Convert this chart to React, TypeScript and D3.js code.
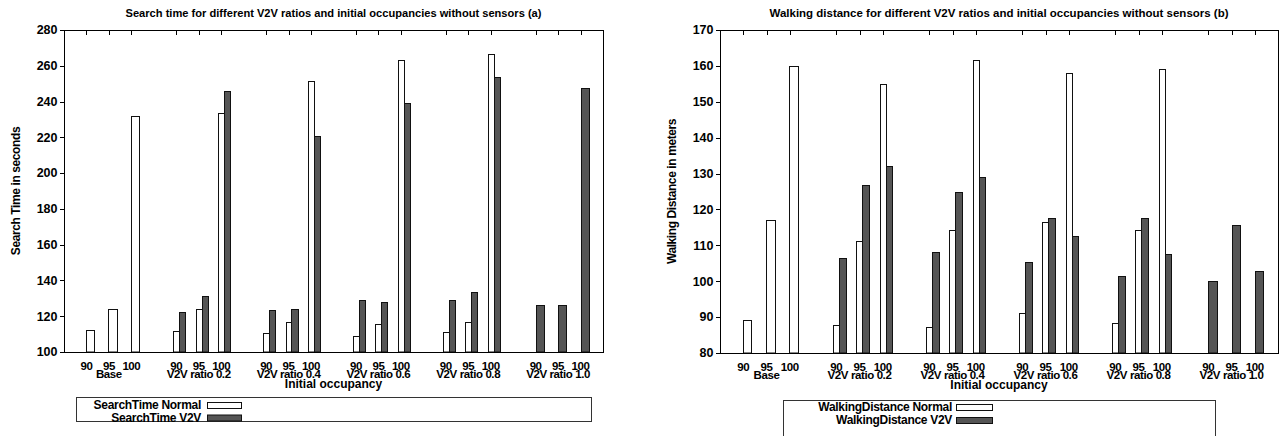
import React from 'react';
import * as d3 from 'd3';

// ---------- data ----------
const groups = ['Base', 'V2V ratio 0.2', 'V2V ratio 0.4', 'V2V ratio 0.6', 'V2V ratio 0.8', 'V2V ratio 1.0'];
const occupancies = ['90', '95', '100'];

const searchNormal: (number[] | null)[] = [
  [112.2, 124.1, 231.9],
  [111.8, 123.8, 233.5],
  [110.9, 116.9, 251.5],
  [108.7, 115.9, 263.1],
  [111.1, 116.7, 266.8],
  null,
];
const searchV2V: (number[] | null)[] = [
  null,
  [122.5, 131.4, 246.0],
  [123.4, 123.9, 220.5],
  [129.2, 128.2, 239.0],
  [129.2, 133.4, 254.0],
  [126.2, 126.4, 247.6],
];

const walkNormal: (number[] | null)[] = [
  [89.2, 117.1, 159.9],
  [87.8, 111.3, 155.0],
  [87.3, 114.3, 161.6],
  [91.2, 116.5, 157.9],
  [88.4, 114.4, 159.1],
  null,
];
const walkV2V: (number[] | null)[] = [
  null,
  [106.4, 126.9, 132.2],
  [108.1, 125.0, 129.0],
  [105.4, 117.7, 112.7],
  [101.5, 117.7, 107.5],
  [100.2, 115.6, 102.9],
];

const searchTicks = [100, 120, 140, 160, 180, 200, 220, 240, 260, 280];
const walkTicks = [80, 90, 100, 110, 120, 130, 140, 150, 160, 170];

const FONT = 'Liberation Sans, Arial, Helvetica, sans-serif';
const DARK = '#555555';

type PanelProps = {
  x0: number; x1: number; yTop: number; yBot: number;
  domain: [number, number]; ticks: number[];
  title: string; titleLen: number;
  yLabel: string; yLabelX: number;
  normal: (number[] | null)[]; v2v: (number[] | null)[];
  legendNormal: string; legendV2V: string;
  box: { x0: number; x1: number; y0: number; y1: number };
  legendTextEnd: number; swatchX: number; swatchW: number; rowY: [number, number];
};

function Panel(p: PanelProps) {
  const x = d3.scaleLinear().domain([-1, 23]).range([p.x0, p.x1]);
  const y = d3.scaleLinear().domain(p.domain).range([p.yBot, p.yTop]);
  const cx = (p.x0 + p.x1) / 2;
  const cy = (p.yTop + p.yBot) / 2;

  const bars: JSX.Element[] = [];
  const labels: JSX.Element[] = [];
  const topTicks: JSX.Element[] = [];
  groups.forEach((g, gi) => {
    const nv = p.normal[gi];
    const vv = p.v2v[gi];
    const paired = !!nv && !!vv;
    occupancies.forEach((o, oi) => {
      const pos = gi * 4 + oi;
      const tx = x(pos);
      topTicks.push(
        <line key={`tt${gi}${oi}`} x1={Math.round(tx) + 0.5} x2={Math.round(tx) + 0.5} y1={p.yTop} y2={p.yTop + 5} stroke="#000" strokeWidth={1} />
      );
      labels.push(
        <text key={`tl${gi}${oi}`} x={tx} y={p.yBot + 17.5} textAnchor="middle" fontSize={11.5} fontWeight="bold" letterSpacing={-0.4} fontFamily={FONT}>{o}</text>
      );
      const drawBar = (val: number, a: number, b: number, fill: string, key: string) => {
        const xa = Math.round(x(pos + a)) + 0.5;
        const xb = Math.round(x(pos + b)) + 0.5;
        const yt = Math.round(y(val)) + 0.5;
        bars.push(
          <rect key={key} x={xa} y={yt} width={xb - xa} height={p.yBot - yt} fill={fill} stroke="#111" strokeWidth={1} />
        );
      };
      if (paired) {
        drawBar(nv![oi], -0.135, 0.125, '#ffffff', `n${gi}${oi}`);
        drawBar(vv![oi], 0.125, 0.4, DARK, `v${gi}${oi}`);
      } else if (nv) {
        drawBar(nv[oi], -0.02, 0.35, '#ffffff', `n${gi}${oi}`);
      } else if (vv) {
        drawBar(vv[oi], 0, 0.36, DARK, `v${gi}${oi}`);
      }
    });
    labels.push(
      <text key={`gl${gi}`} x={x(gi * 4 + 1)} y={p.yBot + 25.5} textAnchor="middle" fontSize={11.5} fontWeight="bold" letterSpacing={-0.4} fontFamily={FONT}>{g}</text>
    );
  });

  return (
    <g>
      <text x={cx} y={16.5} textAnchor="middle" fontSize={11.5} fontWeight="bold" fontFamily={FONT} textLength={p.titleLen} lengthAdjust="spacingAndGlyphs">{p.title}</text>
      <text transform={`translate(${p.yLabelX},${cy}) rotate(-90)`} textAnchor="middle" fontSize={12} fontWeight="bold" letterSpacing={-0.4} fontFamily={FONT}>{p.yLabel}</text>
      {p.ticks.map((t) => (
        <g key={t}>
          <line x1={p.x0 - 4} x2={p.x0} y1={Math.round(y(t)) + 0.5} y2={Math.round(y(t)) + 0.5} stroke="#000" />
          <text x={p.x0 - 6.5} y={y(t) + 4.3} textAnchor="end" fontSize={12.5} fontWeight="bold" fontFamily={FONT}>{t}</text>
        </g>
      ))}
      {bars}
      {topTicks}
      <rect x={Math.round(p.x0) + 0.5} y={Math.round(p.yTop) + 0.5} width={Math.round(p.x1 - p.x0)} height={Math.round(p.yBot - p.yTop)} fill="none" stroke="#000" strokeWidth={1} />
      {labels}
      <text x={cx} y={p.yBot + 35.5} textAnchor="middle" fontSize={12} fontWeight="bold" fontFamily={FONT}>Initial occupancy</text>
      <rect x={p.box.x0 + 0.5} y={p.box.y0 + 0.5} width={p.box.x1 - p.box.x0} height={p.box.y1 - p.box.y0} fill="none" stroke="#333" strokeWidth={1} />
      <text x={p.legendTextEnd} y={p.rowY[0] + 4.3} textAnchor="end" fontSize={12} fontWeight="bold" letterSpacing={-0.3} fontFamily={FONT}>{p.legendNormal}</text>
      <rect x={p.swatchX + 0.5} y={p.rowY[0] - 3 + 0.5} width={p.swatchW} height={6} fill="#fff" stroke="#111" />
      <text x={p.legendTextEnd} y={p.rowY[1] + 4.3} textAnchor="end" fontSize={12} fontWeight="bold" letterSpacing={-0.3} fontFamily={FONT}>{p.legendV2V}</text>
      <rect x={p.swatchX + 0.5} y={p.rowY[1] - 3 + 0.5} width={p.swatchW} height={6} fill={DARK} stroke="#111" />
    </g>
  );
}

export default function App() {
  return (
    <svg width={1286} height={436} style={{ position: 'absolute', left: 0, top: 0, background: '#fff' }}>
      <rect x={0} y={0} width={1286} height={436} fill="#fff" />
      <Panel
        x0={64} x1={603} yTop={30} yBot={352}
        domain={[100, 280]} ticks={searchTicks}
        title="Search time for different V2V ratios and initial occupancies without sensors (a)" titleLen={416}
        yLabel="Search Time in seconds" yLabelX={19.5}
        normal={searchNormal} v2v={searchV2V}
        legendNormal="SearchTime Normal" legendV2V="SearchTime V2V"
        box={{ x0: 76, x1: 591, y0: 397, y1: 421 }}
        legendTextEnd={201} swatchX={207} swatchW={34} rowY={[405, 417.5]}
      />
      <Panel
        x0={720} x1={1278} yTop={30} yBot={353}
        domain={[80, 170]} ticks={walkTicks}
        title="Walking distance for different V2V ratios and initial occupancies without sensors (b)" titleLen={459}
        yLabel="Walking Distance in meters" yLabelX={675.5}
        normal={walkNormal} v2v={walkV2V}
        legendNormal="WalkingDistance Normal" legendV2V="WalkingDistance V2V"
        box={{ x0: 783, x1: 1215, y0: 400, y1: 445 }}
        legendTextEnd={952} swatchX={956} swatchW={36} rowY={[407, 420]}
      />
    </svg>
  );
}
